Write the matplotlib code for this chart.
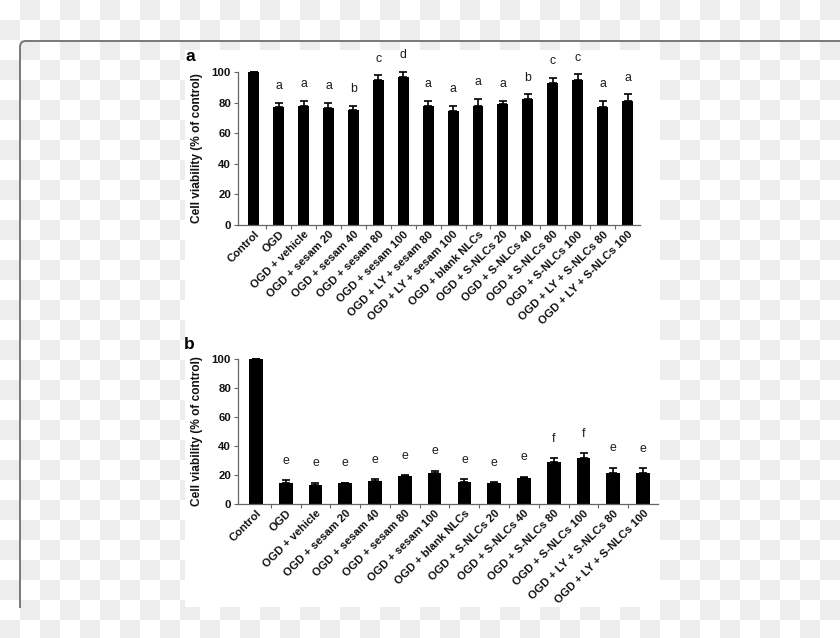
import numpy as np
import matplotlib
matplotlib.use("Agg")
import matplotlib.pyplot as plt
from matplotlib.patches import Rectangle, PathPatch
from matplotlib.path import Path

plt.rcParams['font.family'] = ['Liberation Sans', 'DejaVu Sans']

labels_a = ["Control", "OGD", "OGD + vehicle", "OGD + sesam 20", "OGD + sesam 40",
            "OGD + sesam 80", "OGD + sesam 100", "OGD + LY + sesam 80",
            "OGD + LY + sesam 100", "OGD + blank NLCs", "OGD + S-NLCs 20",
            "OGD + S-NLCs 40", "OGD + S-NLCs 80", "OGD + S-NLCs 100",
            "OGD + LY + S-NLCs 80", "OGD + LY + S-NLCs 100"]
values_a = [100, 76.9, 77.6, 76.3, 75.0, 94.9, 96.7, 78.0, 74.5, 77.6, 79.3,
            82.3, 92.7, 94.9, 77.1, 81.1]
errors_a = [0, 3.1, 3.5, 3.5, 3.0, 2.9, 3.3, 3.0, 3.5, 4.9, 1.8, 3.1, 3.3, 3.5,
            3.9, 4.3]
letters_a = ["", "a", "a", "a", "b", "c", "d", "a", "a", "a", "a", "b", "c",
             "c", "a", "a"]

labels_b = ["Control", "OGD", "OGD + vehicle", "OGD + sesam 20", "OGD + sesam 40",
            "OGD + sesam 80", "OGD + sesam 100", "OGD + blank NLCs",
            "OGD + S-NLCs 20", "OGD + S-NLCs 40", "OGD + S-NLCs 80",
            "OGD + S-NLCs 100", "OGD + LY + S-NLCs 80", "OGD + LY + S-NLCs 100"]
values_b = [100, 14.6, 13.3, 14.2, 15.6, 19.2, 21.5, 15.1, 14.6, 18.1, 29.1,
            31.8, 21.3, 21.7]
errors_b = [0, 1.9, 1.3, 0.5, 1.3, 0.7, 1.4, 1.8, 0.5, 0.7, 2.5, 3.2, 3.6, 2.8]
letters_b = ["", "e", "e", "e", "e", "e", "e", "e", "e", "e", "f", "f", "e", "e"]

W, H = 840, 638
fig = plt.figure(figsize=(W / 100, H / 100), dpi=100)

# checkerboard background
bg = fig.add_axes([0, 0, 1, 1], zorder=-10)
nx, ny = W // 20 + 1, H // 20 + 1
ii, jj = np.meshgrid(np.arange(nx), np.arange(ny))
checker = ((ii + jj) % 2).astype(float)
bg.imshow(checker, cmap=matplotlib.colors.ListedColormap(["#ffffff", "#ededed"]),
          extent=[0, nx * 20, ny * 20, 0], interpolation="nearest", aspect="auto")
bg.set_xlim(0, W)
bg.set_ylim(H, 0)
bg.axis("off")
# card border (left and top edges only)
r = 6
verts = [(20, 608), (20, 41 + r), (20, 41), (20 + r, 41), (W + 5, 41)]
codes = [Path.MOVETO, Path.LINETO, Path.CURVE3, Path.CURVE3, Path.LINETO]
bg.add_patch(PathPatch(Path(verts, codes), fill=False, edgecolor="#6f6f6f", lw=1.3))
# white panel
bg.add_patch(Rectangle((185, 50), 475, 557, facecolor="white", edgecolor="none"))


def panel(rect, labels, values, errors, letters, xlim, width, offset, tag):
    ax = fig.add_axes(rect)
    x = np.arange(len(values))
    err = np.array(errors)
    ax.bar(x, values, width=width, color="black", zorder=2, clip_on=False)
    ax.errorbar(x, values, yerr=[np.zeros_like(err), err], fmt="none",
                ecolor="black", elinewidth=1.2, capsize=2.6, capthick=1.2,
                zorder=3, clip_on=False)
    for xi, v, e, l in zip(x, values, errors, letters):
        if l:
            ax.annotate(l, (xi, v + e), xytext=(0, offset), textcoords="offset points",
                        ha="center", va="center", fontsize=8.8, color="#1a1a1a",
                        annotation_clip=False)
    ax.set_xlim(*xlim)
    ax.set_ylim(0, 100)
    ax.set_yticks(np.arange(0, 101, 20))
    ax.set_xticks(x)
    ax.set_xticklabels(labels, rotation=45, ha="right", va="top",
                       rotation_mode="anchor", fontsize=8.1, fontweight="bold",
                       color="#111111")
    ax.tick_params(axis="x", which="major", length=0, pad=3)
    ax.set_xticks(np.arange(len(values) - 1) + 0.5, minor=True)
    ax.tick_params(axis="x", which="minor", length=3, direction="out",
                   color="#666666", width=0.8)
    ax.tick_params(axis="y", length=3, width=0.8, color="#666666", pad=2,
                   labelsize=8.2, labelcolor="#111111")
    for t in ax.get_yticklabels():
        t.set_fontweight("bold")
    for s in ["top", "right"]:
        ax.spines[s].set_visible(False)
    for s in ["left", "bottom"]:
        ax.spines[s].set_color("#666666")
        ax.spines[s].set_linewidth(0.9)
    ax.set_ylabel("Cell viability (% of control)", fontsize=8.6, fontweight="bold",
                  color="#111111", labelpad=6)
    ax.patch.set_alpha(0)
    ax.text(-0.13, 1.10, tag, transform=ax.transAxes, fontsize=12.5,
            fontweight="bold", ha="left", va="center")
    return ax

panel([238 / W, (H - 225) / H, 402 / W, 153 / H], labels_a, values_a, errors_a,
      letters_a, (-0.63, 15.5), 0.44, 12, "a")
panel([238 / W, (H - 504) / H, 420 / W, 145 / H], labels_b, values_b, errors_b,
      letters_b, (-0.6, 13.5), 0.46, 14, "b")

fig.savefig("out.png", dpi=100)
